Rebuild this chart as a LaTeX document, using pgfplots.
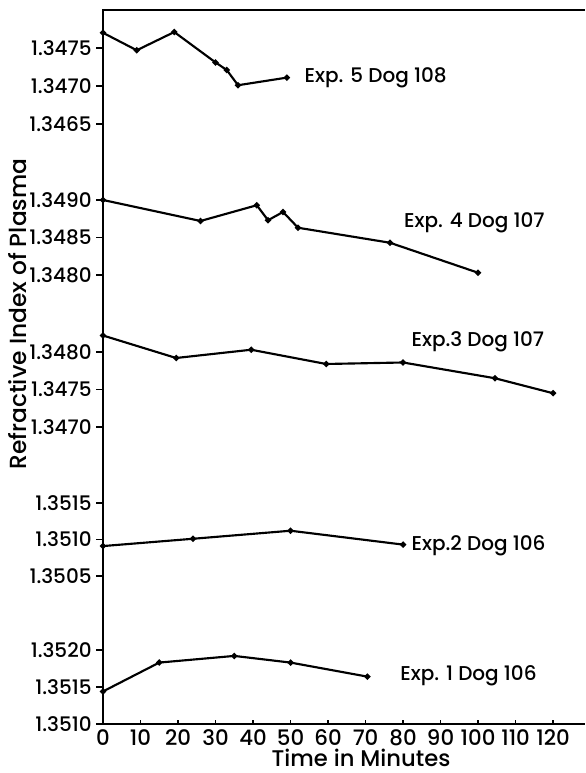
\documentclass[border=0pt]{standalone}
\usepackage{pgfplots}
\pgfplotsset{compat=1.18}
\usepackage{fontspec}
\setmainfont{Poppins}[UprightFont={* Medium}]

\tikzset{
  explabel/.style={anchor=west, font=\fontsize{15}{17}\selectfont},
  ser/.style={black, line width=1.6pt, mark=*, mark size=1.4pt, mark options={solid, fill=black}},
}
\pgfplotsset{
  sub/.style={
    scale only axis, width=361.5pt, xmin=0, xmax=128.5,
    clip=false, anchor=south west,
    axis line style={draw=none},
    xtick=\empty, tick align=outside, ytick pos=left,
    major tick length=5pt,
    every tick/.style={black, line width=1.2pt},
    scaled y ticks=false,
    yticklabel style={font=\fontsize{15}{17}\selectfont},
  },
}

\begin{document}
\begin{tikzpicture}
\useasboundingbox (-77.25pt,-36.75pt) rectangle (361.5pt,543pt);

% main frame
\begin{axis}[
  scale only axis, width=361.5pt, height=535.5pt,
  xmin=0, xmax=128.5, ymin=0, ymax=1, clip=false,
  axis x line*=bottom, axis y line*=left,
  axis line style={line width=1.5pt},
  ytick=\empty,
  xtick={0,10,...,120},
  tick align=inside,
  major tick length=3pt,
  every tick/.style={black, line width=1.2pt},
  /pgf/number format/assume math mode=true,
  xticklabel style={font=\fontsize{16}{18}\selectfont, yshift=-1pt},
  anchor=south west, at={(0pt,0pt)},
]
\end{axis}
\draw[line width=1.5pt] (-0.75pt,535.5pt) -- (361.5pt,535.5pt);

% Exp 5
\begin{axis}[sub, at={(0pt,450pt)}, height=57pt, ymin=1.3465, ymax=1.3475,
  ytick={1.3465,1.3470,1.3475}, yticklabels={1.3465,1.3470,1.3475}]
\addplot[ser] coordinates {(0,1.34770) (9,1.34747) (19,1.34771) (30,1.34731) (33,1.34721) (36,1.34701) (49,1.34711)};
\node[explabel] at (axis cs:52.5,1.34711) {Exp. 5 Dog 108};
\end{axis}

% Exp 4
\begin{axis}[sub, at={(0pt,336.75pt)}, height=56.25pt, ymin=1.3480, ymax=1.3490,
  ytick={1.3480,1.3485,1.3490}, yticklabels={1.3480,1.3485,1.3490}]
\addplot[ser] coordinates {(0,1.34900) (26,1.34872) (41,1.34893) (44,1.34873) (48,1.34884) (52,1.34863) (76.5,1.34843) (100,1.34803)};
\node[explabel] at (axis cs:79,1.34869) {Exp. 4 Dog 107};
\end{axis}

% Exp 3
\begin{axis}[sub, at={(0pt,222.75pt)}, height=56.25pt, ymin=1.3470, ymax=1.3480,
  ytick={1.3470,1.3475,1.3480}, yticklabels={1.3470,1.3475,1.3480}]
\addplot[ser] coordinates {(0,1.34822) (19.5,1.34792) (39.5,1.34803) (59.5,1.34784) (80,1.34786) (104.5,1.34765) (120,1.34745)};
\node[explabel] at (axis cs:81,1.34813) {Exp.3 Dog 107};
\end{axis}

% Exp 2
\begin{axis}[sub, at={(0pt,111pt)}, height=54.75pt, ymin=1.3505, ymax=1.3515,
  ytick={1.3505,1.3510,1.3515}, yticklabels={1.3505,1.3510,1.3515}]
\addplot[ser] coordinates {(0,1.35091) (24,1.35101) (50,1.35112) (80,1.35093)};
\node[explabel] at (axis cs:81,1.35092) {Exp.2 Dog 106};
\end{axis}

% Exp 1
\begin{axis}[sub, at={(0pt,0pt)}, height=55.5pt, ymin=1.3510, ymax=1.3520,
  ytick={1.3510,1.3515,1.3520}, yticklabels={1.3510,1.3515,1.3520}]
\addplot[ser] coordinates {(0,1.35144) (15,1.35183) (35,1.35192) (50,1.35183) (70.5,1.35164)};
\node[explabel] at (axis cs:78,1.35165) {Exp. 1 Dog 106};
\end{axis}

\node[rotate=90, font=\fontsize{17.5}{19}\selectfont] at (-64pt,307.5pt) {Refractive Index of Plasma};
\node[anchor=base, inner sep=0pt, font=\fontsize{17}{19}\selectfont] at (193.5pt,-32pt) {Time in Minutes};
\end{tikzpicture}
\end{document}
